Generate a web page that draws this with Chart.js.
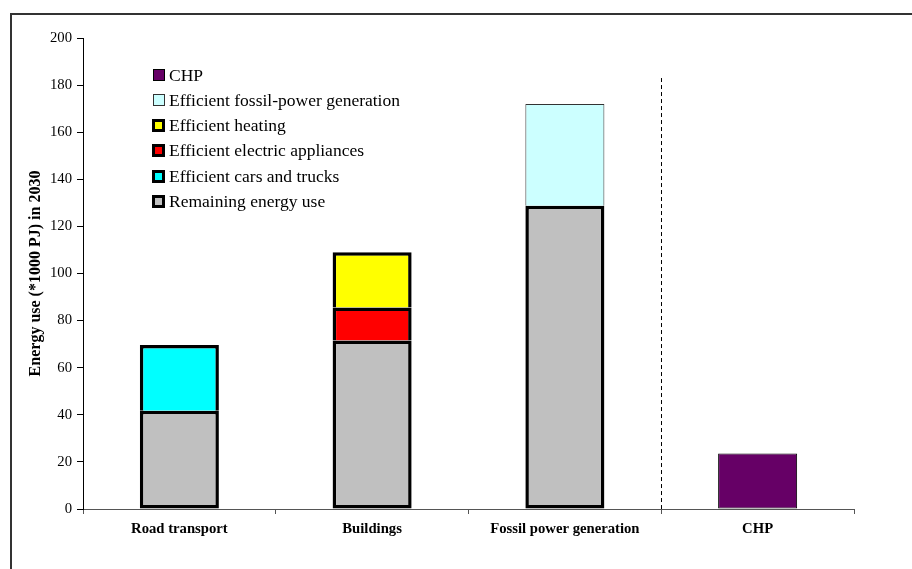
<!DOCTYPE html>
<html>
<head>
<meta charset="utf-8">
<style>
  html, body { margin: 0; padding: 0; background: #fff; }
  #wrap { width: 912px; height: 569px; position: relative; }
</style>
<script src="https://cdn.jsdelivr.net/npm/chart.js@4.4.1/dist/chart.umd.min.js"></script>
</head>
<body>
<div id="wrap"><canvas id="chart" width="912" height="569"></canvas></div>
<script>
// Energy savings potential by sector, 2030 (*1000 PJ)
const categories = ['Road transport', 'Buildings', 'Fossil power generation', 'CHP'];
const remainingUse = [41.7, 71.5, 128.8, null];
const efficientCars = [27.9, null, null, null];
const efficientAppliances = [null, 14.1, null, null];
const efficientHeating = [null, 23.4, null, null];
const efficientFossilGen = [null, null, 43.2, null];
const chpSavings = [null, null, null, 23.6];
const yTicks = [0, 20, 40, 60, 80, 100, 120, 140, 160, 180, 200];
const dividerAt = 2.5;      // between the power-generation and CHP columns
const dividerTop = 183;     // upper end of the divider, in axis units

const SERIF = '"Liberation Serif", "Times New Roman", serif';

// Frame round the whole figure (left and top edges)
const framePlugin = {
  id: 'frame',
  beforeDraw(chart) {
    const ctx = chart.ctx;
    ctx.save();
    ctx.fillStyle = '#fff';
    ctx.fillRect(0, 0, chart.width, chart.height);
    ctx.strokeStyle = '#333';
    ctx.lineWidth = 2;
    ctx.beginPath();
    ctx.moveTo(11, chart.height + 2);
    ctx.lineTo(11, 14);
    ctx.lineTo(chart.width + 2, 14);
    ctx.stroke();
    ctx.restore();
  }
};

// Dashed vertical divider
const dividerPlugin = {
  id: 'divider',
  afterDatasetsDraw(chart) {
    const x = chart.scales.x.getPixelForValue(dividerAt);
    const yTop = chart.scales.y.getPixelForValue(dividerTop);
    const yBot = chart.scales.y.getPixelForValue(0);
    const ctx = chart.ctx;
    ctx.save();
    ctx.strokeStyle = '#000';
    ctx.lineWidth = 1;
    ctx.setLineDash([4, 3]);
    ctx.beginPath();
    ctx.moveTo(Math.round(x) + 0.5, yTop);
    ctx.lineTo(Math.round(x) + 0.5, yBot);
    ctx.stroke();
    ctx.restore();
  }
};

// Legend inside the plot area, top series first
const innerLegend = {
  id: 'innerLegend',
  afterDraw(chart) {
    const ctx = chart.ctx;
    const area = chart.chartArea;
    const x0 = area.left + 70;
    const y0 = area.top + 37;
    const step = 25.3;
    const sets = chart.data.datasets.slice().reverse();
    ctx.save();
    ctx.font = '17.5px ' + SERIF;
    ctx.textBaseline = 'middle';
    sets.forEach((ds, i) => {
      const cy = y0 + i * step;
      const heavy = ds.legendBorder > 1;
      const s = heavy ? 13 : 12;
      const bx = x0 - (heavy ? 1 : 0);
      const by = Math.round(cy - s / 2);
      ctx.fillStyle = ds.borderColor;
      ctx.fillRect(bx, by, s, s);
      const b = ds.legendBorder;
      ctx.fillStyle = ds.backgroundColor;
      ctx.fillRect(bx + b, by + b, s - 2 * b, s - 2 * b);
      ctx.fillStyle = '#000';
      ctx.fillText(ds.label, x0 + 16, cy + 1);
    });
    ctx.restore();
  }
};

const thick = 3.5;
new Chart(document.getElementById('chart'), {
  type: 'bar',
  data: {
    labels: categories,
    datasets: [
      { label: 'Remaining energy use', data: remainingUse, backgroundColor: '#C0C0C0',
        borderColor: '#000', borderWidth: thick, borderSkipped: false, legendBorder: 3 },
      { label: 'Efficient cars and trucks', data: efficientCars, backgroundColor: '#00FFFF',
        borderColor: '#000', borderWidth: thick, borderSkipped: 'start', legendBorder: 3 },
      { label: 'Efficient electric appliances', data: efficientAppliances, backgroundColor: '#FF0000',
        borderColor: '#000', borderWidth: thick, borderSkipped: 'start', legendBorder: 3 },
      { label: 'Efficient heating', data: efficientHeating, backgroundColor: '#FFFF00',
        borderColor: '#000', borderWidth: thick, borderSkipped: 'start', legendBorder: 3 },
      { label: 'Efficient fossil-power generation', data: efficientFossilGen, backgroundColor: '#CCFFFF',
        borderColor: '#333', borderWidth: 1, borderSkipped: 'start', legendBorder: 1 },
      { label: 'CHP', data: chpSavings, backgroundColor: '#660066',
        borderColor: '#000', borderWidth: 1, borderSkipped: false, legendBorder: 1 }
    ]
  },
  options: {
    responsive: false,
    animation: false,
    devicePixelRatio: 1,
    layout: { padding: { left: 0, top: 38, right: 58, bottom: 0 } },
    datasets: { bar: { categoryPercentage: 1, barPercentage: 0.41 } },
    plugins: {
      legend: { display: false },
      tooltip: { enabled: false }
    },
    scales: {
      x: {
        stacked: true,
        grid: { offset: true, drawOnChartArea: false, drawTicks: true, tickLength: 5, color: '#555' },
        border: { display: true, color: '#555', width: 1 },
        ticks: { color: '#000', padding: 6, maxRotation: 0,
          font: { family: SERIF, size: 14.7, weight: 'bold' } },
        afterFit(scale) { scale.height = 60; }
      },
      y: {
        stacked: true,
        min: 0,
        max: 200,
        afterBuildTicks(scale) { scale.ticks = yTicks.map(v => ({ value: v })); },
        grid: { drawOnChartArea: false, drawTicks: true, tickLength: 6, color: '#000' },
        border: { display: true, color: '#000', width: 1 },
        ticks: { color: '#000', padding: 5, font: { family: SERIF, size: 14.7 } },
        title: {
          display: true,
          text: 'Energy use (*1000 PJ) in 2030',
          color: '#000',
          padding: { top: 26, bottom: 0 },
          font: { family: SERIF, size: 16, weight: 'bold' }
        },
        afterFit(scale) { scale.width = 83; }
      }
    }
  },
  plugins: [framePlugin, dividerPlugin, innerLegend]
});
</script>
</body>
</html>
